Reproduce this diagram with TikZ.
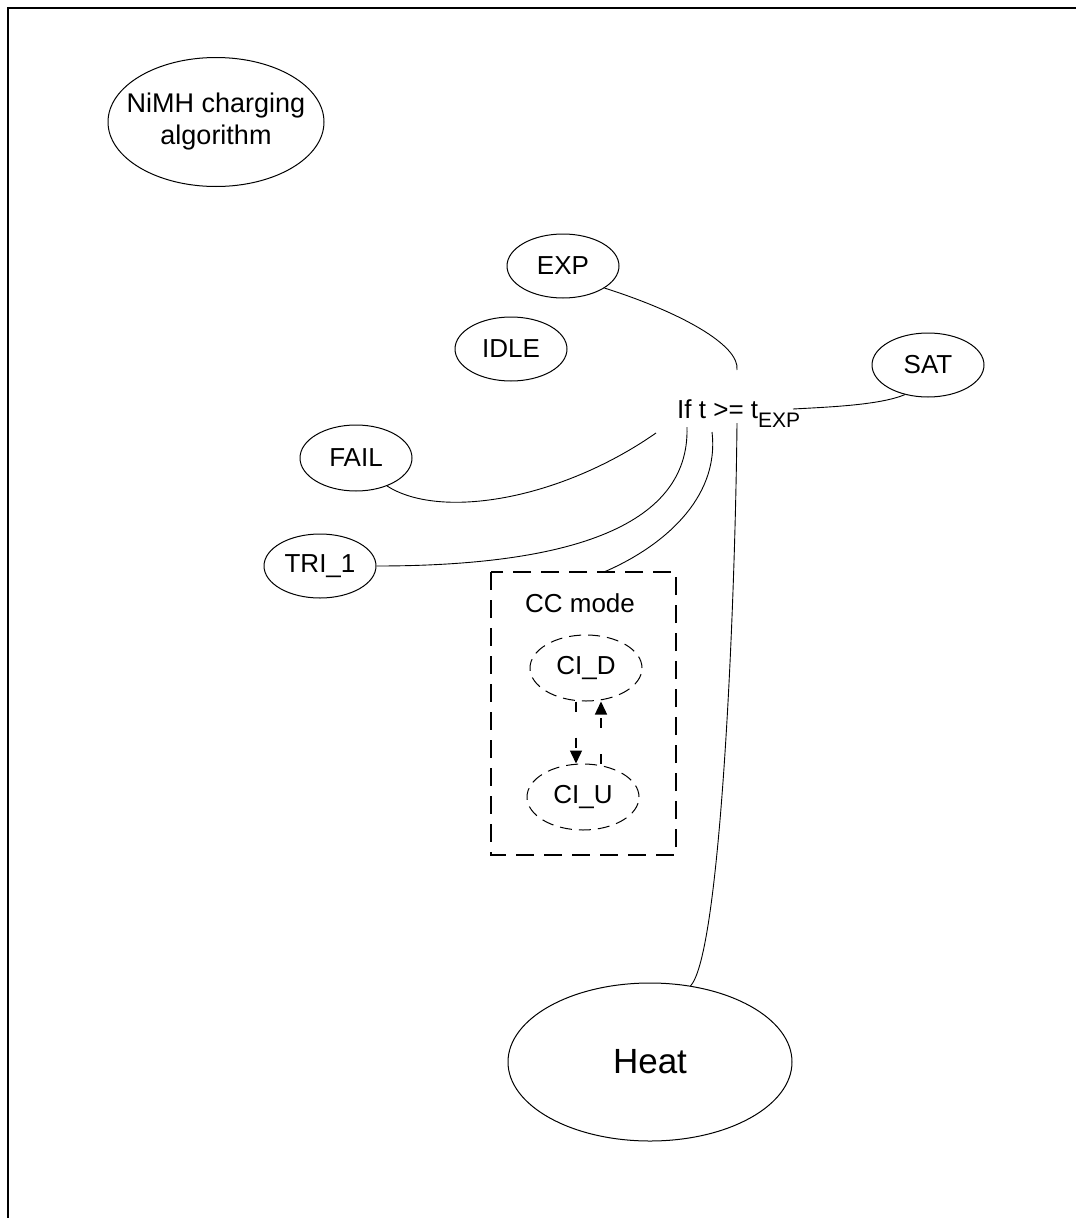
\documentclass[tikz,border=0pt]{standalone}
\usepackage{fontspec}
\setmainfont{Liberation Sans}
\usetikzlibrary{shapes.geometric,arrows.meta}
\begin{document}
\begin{tikzpicture}[x=1pt,y=-1pt,
  state/.style={ellipse, draw, line width=1pt, inner sep=0pt,
    minimum width=112pt, minimum height=64pt, font=\fontsize{26}{30}\selectfont},
  dstate/.style={state, dash pattern=on 12pt off 7pt},
  link/.style={line width=0.9pt},
  darrow/.style={line width=1.4pt, dash pattern=on 10pt off 26pt,
    -{Triangle[length=13pt,width=12pt]}},
  lbl/.style={inner sep=0pt, font=\fontsize{26}{30}\selectfont}]
\useasboundingbox (0,0) rectangle (1076,1218);
% frame
\draw[line width=2.2pt] (8,1218) -- (8,8) -- (1076,8);
% nodes
\node[state, minimum width=216pt, minimum height=129pt, align=center,
  inner xsep=-14pt, inner ysep=-8pt,
  font=\fontsize{27}{32}\selectfont] (nimh) at (216,122) {NiMH charging\\algorithm};
\node[state] (exp) at (563,266) {EXP};
\node[state] (idle) at (511,349) {IDLE};
\node[state, minimum height=64pt] (sat) at (928,365) {SAT};
\node[state, minimum height=66pt] (fail) at (356,458) {FAIL};
\node[state, minimum height=64pt] (tri) at (320,566) {TRI\_1};
\node[lbl, anchor=base west] (cond) at (677,418)
  {If t >= t\raisebox{-9pt}{\fontsize{21}{21}\selectfont EXP}};
% CC mode box
\draw[line width=2pt, dash pattern=on 18pt off 10pt] (491,572) rectangle (676,855);
\coordinate (cctop) at (604,572);
\node[lbl, anchor=base] (ccl) at (580,612) {CC mode};
\node[dstate, minimum height=66pt] (cid) at (586,668) {CI\_D};
\node[dstate, minimum height=66pt] (ciu) at (583,797) {CI\_U};
\node[state, minimum width=284pt, minimum height=158pt,
  font=\fontsize{35}{40}\selectfont] (heat) at (650,1062) {Heat};
% connector end points near the condition text
\coordinate (eEXP) at (737,370);
\coordinate (eSAT) at (793,409);
\coordinate (eFAIL) at (656,433);
\coordinate (eTRI) at (687,427);
\coordinate (eCC) at (712,432);
\coordinate (eHEAT) at (737,423);
% connectors
\draw[link] (exp.-28) .. controls (680,312) and (740,345) .. (eEXP);
\draw[link] (sat.-128) .. controls (880,405) and (830,407) .. (eSAT);
\draw[link] (fail.-42) .. controls (440,520) and (560,500) .. (eFAIL);
\draw[link] (tri.east) .. controls (560,566) and (690,530) .. (eTRI);
\draw[link] (cctop) .. controls (660,548) and (720,500) .. (eCC);
\draw[link] (heat.62) .. controls (720,955) and (735,620) .. (eHEAT);
% CC internal transitions
\draw[darrow] (cid.south -| 576,0) -- (ciu.north -| 576,0);
\draw[darrow] (ciu.north -| 601,0) -- (cid.south -| 601,0);
\end{tikzpicture}
\end{document}
